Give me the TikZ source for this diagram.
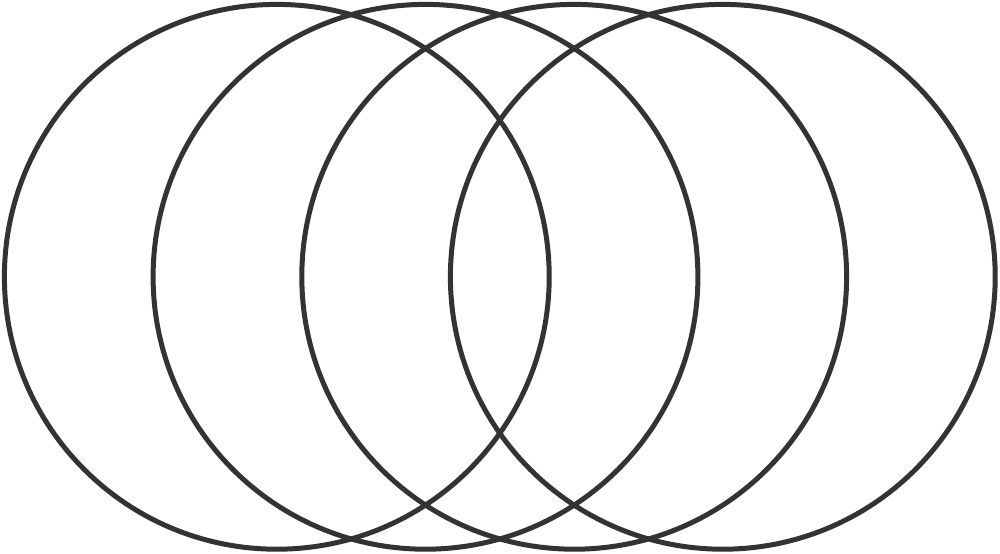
\documentclass[tikz,border=0pt]{standalone}
\definecolor{ringgray}{HTML}{333333}
\begin{document}
\begin{tikzpicture}[x=0.02cm,y=0.02cm,
  ring/.style={draw=ringgray,line width=0.1cm}]
\useasboundingbox (0,0) rectangle (1000,554);
\fill[white] (0,0) rectangle (1000,554);
\coordinate (c1) at (276.8,277.2);
\coordinate (c2) at (425.5,277.2);
\coordinate (c3) at (574.2,277.2);
\coordinate (c4) at (722.8,277.2);
\foreach \c in {c1,c2,c3,c4}
  \draw[ring] (\c) circle [radius=272.4];
\end{tikzpicture}
\end{document}
